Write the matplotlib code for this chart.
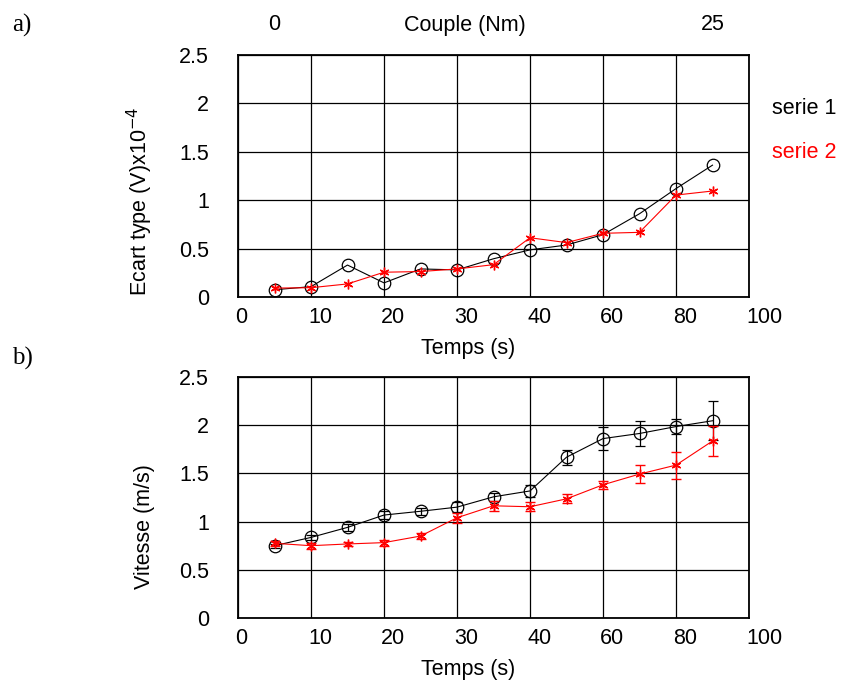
import numpy as np
import matplotlib
matplotlib.use("Agg")
import matplotlib.pyplot as plt
import matplotlib.transforms as mtransforms
from matplotlib.ticker import FixedLocator, FixedFormatter

plt.rcParams['font.family'] = ['Liberation Sans', 'DejaVu Sans']

# ---- data ----
temps = [5, 10, 15, 20, 25, 30, 35, 40, 50, 60, 70, 80, 90]
x_ticks = [0, 10, 20, 30, 40, 60, 80, 100]
y_ticks = [0, 0.5, 1, 1.5, 2, 2.5]
y_ticklabels = ["0", "0.5", "1", "1.5", "2", "2.5"]

ecart_s1 = [0.075, 0.107, 0.33, 0.146, 0.29, 0.28, 0.395, 0.487, 0.537, 0.644, 0.86, 1.12, 1.362]
ecart_s2 = [0.092, 0.096, 0.135, 0.256, 0.263, 0.29, 0.334, 0.612, 0.562, 0.658, 0.668, 1.053, 1.095]

vit_s1 = [0.75, 0.836, 0.94, 1.068, 1.107, 1.15, 1.257, 1.318, 1.668, 1.861, 1.914, 1.986, 2.046]
vit_s1_err = [0.02, 0.03, 0.04, 0.04, 0.035, 0.05, 0.04, 0.06, 0.077, 0.12, 0.125, 0.08, 0.2]
vit_s2 = [0.775, 0.75, 0.768, 0.782, 0.85, 1.04, 1.164, 1.154, 1.236, 1.382, 1.493, 1.586, 1.836]
vit_s2_err = [0.027, 0.03, 0.02, 0.03, 0.03, 0.054, 0.05, 0.045, 0.046, 0.04, 0.095, 0.14, 0.154]

couple_labels = ["0", "25"]
series_names = ["serie 1", "serie 2"]
colors = ["black", "red"]


# piecewise-linear time scale: 10 s per grid cell up to 40 s, then 20 s per cell
def fwd(x):
    x = np.asarray(x, dtype=float)
    return np.where(x <= 40, x / 10.0, 4 + (x - 40) / 20.0)


def inv(u):
    u = np.asarray(u, dtype=float)
    return np.where(u <= 4, u * 10.0, 40 + (u - 4) * 20.0)


W, H = 843, 681
fig = plt.figure(figsize=(W / 100, H / 100), dpi=100)

L, R = 238 / W, 749 / W
axA = fig.add_axes([L, 1 - 297 / H, R - L, (297 - 55) / H])
axB = fig.add_axes([L, 1 - 618 / H, R - L, (618 - 377) / H])

FS = 15.5


def style(ax):
    ax.set_xscale('function', functions=(fwd, inv))
    ax.set_xlim(0, 100)
    ax.set_ylim(0, 2.5)
    ax.xaxis.set_major_locator(FixedLocator(x_ticks))
    ax.xaxis.set_major_formatter(FixedFormatter([str(t) for t in x_ticks]))
    ax.xaxis.set_minor_locator(FixedLocator([]))
    ax.yaxis.set_major_locator(FixedLocator(y_ticks))
    ax.yaxis.set_major_formatter(FixedFormatter(y_ticklabels))
    ax.grid(True, color='black', linewidth=0.9)
    ax.set_axisbelow(True)
    ax.tick_params(axis='both', length=0, labelsize=FS)
    ax.tick_params(axis='x', pad=7)
    ax.tick_params(axis='y', pad=21)
    shift = mtransforms.ScaledTranslation(-3 / 100, 0, fig.dpi_scale_trans)
    for lab in ax.get_xticklabels():
        lab.set_horizontalalignment('left')
        lab.set_transform(lab.get_transform() + shift)
    for s in ax.spines.values():
        s.set_linewidth(1.3)
        s.set_color('black')


style(axA)
style(axB)

# panel a
axA.plot(temps, ecart_s1, color=colors[0], lw=0.8, marker='o', ms=9,
         mfc='none', mec=colors[0], mew=0.9, clip_on=False, zorder=3)
axA.plot(temps, ecart_s2, color=colors[1], lw=0.8, marker=(6, 2, 0), ms=7,
         mec=colors[1], mew=1.0, clip_on=False, zorder=4)

# panel b
axB.errorbar(temps, vit_s1, yerr=vit_s1_err, color=colors[0], lw=0.8,
             marker='o', ms=9, mfc='none', mec=colors[0], mew=0.9,
             capsize=3.5, elinewidth=0.9, capthick=0.9, zorder=3)
axB.errorbar(temps, vit_s2, yerr=vit_s2_err, color=colors[1], lw=0.8,
             marker=(6, 2, 0), ms=7, mec=colors[1], mew=1.0,
             capsize=3.5, elinewidth=0.9, capthick=0.9, zorder=4)

# axis labels
axA.set_xlabel("Temps (s)", fontsize=FS)
axA.xaxis.set_label_coords((468 - 238) / 511, -0.17)
axA.set_ylabel("Ecart type (V)x10$^{-4}$", fontsize=FS)
axA.yaxis.set_label_coords(-0.163, (297 - 201) / 242)

axB.set_xlabel("Temps (s)", fontsize=FS)
axB.xaxis.set_label_coords((468 - 238) / 511, -0.17)
axB.set_ylabel("Vitesse (m/s)", fontsize=FS)
axB.yaxis.set_label_coords(-0.163, (618 - 527) / 241)

# top "Couple" axis annotation
fig.text(fwd(temps[0]) / 7 * (R - L) + L, 1 - 25 / H, couple_labels[0],
         fontsize=FS, ha='center', va='center')
fig.text(fwd(temps[-1]) / 7 * (R - L) + L, 1 - 25 / H, couple_labels[1],
         fontsize=FS, ha='center', va='center')
fig.text(465 / W, 1 - 25 / H, "Couple (Nm)", fontsize=FS, ha='center', va='center')

# legend-like texts
fig.text(772 / W, 1 - 108 / H, series_names[0], color=colors[0], fontsize=FS,
         ha='left', va='center')
fig.text(772 / W, 1 - 153 / H, series_names[1], color=colors[1], fontsize=FS,
         ha='left', va='center')

# panel letters
fig.text(12 / W, 1 - 25 / H, "a)", fontsize=18, family='Liberation Serif',
         ha='left', va='center')
fig.text(12 / W, 1 - 358 / H, "b)", fontsize=18, family='Liberation Serif',
         ha='left', va='center')

fig.savefig("out.png", dpi=100)
